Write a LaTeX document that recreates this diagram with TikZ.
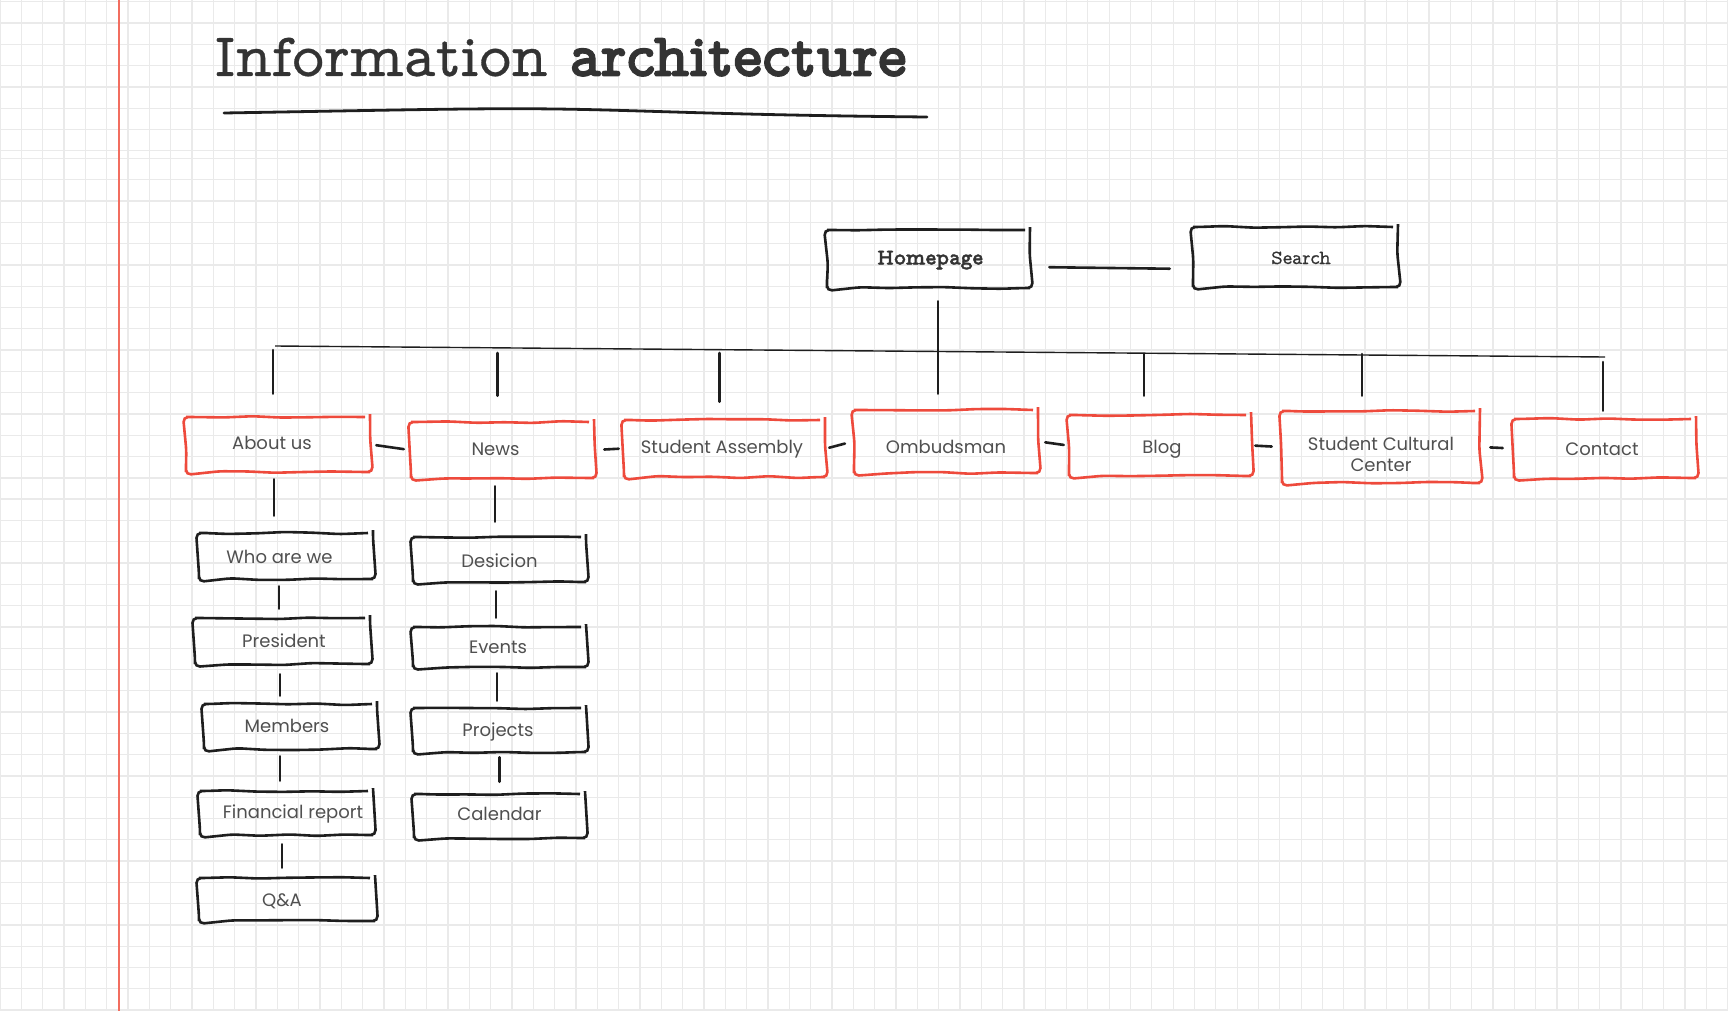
\documentclass[tikz,border=0pt]{standalone}
\usepackage{fontspec}
\usetikzlibrary{decorations.pathmorphing,calc}
\setsansfont{Poppins}
\newfontfamily\tw{lmmonoprop10-regular.otf}[FakeBold=0.5, BoldFont=lmmonoproplt10-bold.otf, BoldFeatures={FakeBold=1.6}]
\definecolor{redbox}{HTML}{EE4A3C}
\definecolor{ink}{HTML}{1E1E1E}
\definecolor{txt}{HTML}{333333}
\definecolor{ltxt}{HTML}{505050}
\definecolor{gridc}{HTML}{EAEAEA}
\definecolor{margin}{HTML}{F26D5F}
\newcommand\tp[3]{\hspace*{#1pt}\raisebox{#2pt}[0pt][0pt]{#3}}
\tikzset{
  sk/.style={draw=ink, line width=2.6pt, decorate,
    decoration={random steps, segment length=28pt, amplitude=1.1pt},
    rounded corners=5pt, inner sep=0pt, text=ltxt,
    font=\sffamily\fontsize{18}{21}\selectfont},
  rbox/.style={sk, draw=redbox},
  kbox/.style={sk},
  conn/.style={draw=ink, line width=2.6pt, line cap=round},
  busline/.style={draw=ink, line width=1.4pt},
}
\begin{document}
\begin{tikzpicture}[x=1pt, y=-1pt]
\pgfmathsetseed{11}
\useasboundingbox (0,0) rectangle (1728,1011);
\fill[white] (0,0) rectangle (1728,1011);
% grid
\foreach \i in {0,...,81} \draw[gridc, line width=1.3pt] (\i*21.33,0) -- (\i*21.33,1011);
\foreach \j in {0,...,7} \draw[gridc, line width=1.3pt] (0,1.7+\j*21.3) -- (1728,1.7+\j*21.3);
\foreach \j in {0,...,40} \draw[gridc, line width=1.3pt] (0,158.5+\j*21.29) -- (1728,158.5+\j*21.29);
\draw[margin, line width=1.5pt] (119,0) -- (119,1011);
% title
\node[anchor=base west, inner sep=0pt, text=txt, font=\tw\fontsize{62}{62}\selectfont] (title) at (214,76) {Information \textbf{architecture}};
\draw[ink, line width=2.8pt, line cap=round] (224,113) .. controls (400,110) and (480,108) .. (555,109) .. controls (640,110) and (720,115) .. (927,117);
% top
\node[kbox, minimum width=203pt, minimum height=58pt, text=txt, font=\tw\bfseries\fontsize{22.5}{24}\selectfont] (home) at (928.5,259) {\tp{3}{-5.5}{Homepage}};
\node[kbox, minimum width=205pt, minimum height=60pt, text=txt, font=\tw\fontsize{20}{22}\selectfont] (search) at (1295.5,257) {\tp{11}{-7}{Search}};
% level 1
\node[rbox, minimum width=184pt, minimum height=55pt] (about) at (278,444.5) {\tp{-12}{-4.5}{About us}};
\node[rbox, minimum width=183pt, minimum height=56pt] (news) at (502.5,450) {\tp{-14}{-5}{News}};
\node[rbox, minimum width=201pt, minimum height=57pt] (sa) at (724.5,448.5) {\tp{-5}{-4.5}{Student Assembly}};
\node[rbox, minimum width=184pt, minimum height=63pt] (omb) at (946,441.5) {\tp{0}{-11.5}{Ombudsman}};
\node[rbox, minimum width=182pt, minimum height=61pt] (blog) at (1160,445.5) {\tp{4}{-7.5}{Blog}};
\node[rbox, minimum width=198pt, minimum height=72pt] (scc) at (1381,447) {\tp{0}{-24}{\begin{tabular}[b]{@{}c@{}}Student Cultural\\Center\end{tabular}}};
\node[rbox, minimum width=182pt, minimum height=59pt] (contact) at (1605,448.5) {\tp{-6}{-6.5}{Contact}};
% level 2
\node[kbox, minimum width=174pt, minimum height=46pt] (who) at (286,556) {\tp{-13}{-7}{Who are we}};
\node[kbox, minimum width=175pt, minimum height=46pt] (pres) at (282.5,641) {\tp{3}{-6}{President}};
\node[kbox, minimum width=173pt, minimum height=45pt] (memb) at (290.5,726.5) {\tp{-7}{-5.5}{Members}};
\node[kbox, minimum width=173pt, minimum height=44pt] (fin) at (286.5,813) {\tp{13}{-5}{Financial report}};
\node[kbox, minimum width=176pt, minimum height=43pt] (qa) at (287,899.5) {\tp{-10}{-6.5}{Q\&A}};
\node[kbox, minimum width=173pt, minimum height=45pt] (dec) at (499.5,559.5) {\tp{0}{-7.5}{Desicion}};
\node[kbox, minimum width=173pt, minimum height=40pt] (ev) at (499.5,647) {\tp{-3}{-6}{Events}};
\node[kbox, minimum width=173pt, minimum height=44pt] (proj) at (499.5,730) {\tp{-3}{-6}{Projects}};
\node[kbox, minimum width=171pt, minimum height=44pt] (cal) at (499.5,816) {\tp{0}{-4}{Calendar}};
% bus
\coordinate (busL) at (275,346);
\coordinate (busR) at (1605,357);
\draw[busline] (busL) -- (busR);
% connectors
\draw[conn, shorten <=18pt, shorten >=22pt] ([yshift=-8pt]home.east) -- ([yshift=-12pt]search.west);
\draw[conn, shorten <=12pt, shorten >=15pt] ([xshift=9.5pt]home.south) -- ([xshift=9.5pt]home.south |- omb.north);
\draw[conn, shorten <=22pt, shorten >=4pt] ([xshift=-5pt]about.north) -- ([xshift=-5pt]about.north |- busL);
\draw[conn, shorten <=25pt, shorten >=7pt] ([xshift=-5pt]news.north) -- ([xshift=-5pt]news.north |- busL);
\draw[conn, shorten <=17pt, shorten >=7pt] ([xshift=-5pt]sa.north) -- ([xshift=-5pt]sa.north |- busL);
\draw[conn, shorten <=18pt, shorten >=8pt] ([xshift=-16pt]blog.north) -- ([xshift=-16pt]blog.north |- busL);
\draw[conn, shorten <=14pt, shorten >=8pt] ([xshift=-19pt]scc.north) -- ([xshift=-19pt]scc.north |- busL);
\draw[conn, shorten <=7pt, shorten >=16pt] ([xshift=-2pt]contact.north) -- ([xshift=-2pt]contact.north |- busL);
\draw[conn, shorten <=5pt, shorten >=6pt] (about.east) -- (news.west);
\draw[conn, shorten <=9pt, shorten >=4pt] (news.east) -- (sa.west);
\draw[conn, shorten <=3pt, shorten >=8pt] (sa.east) -- (omb.west);
\draw[conn, shorten <=6pt, shorten >=4pt] (omb.east) -- (blog.west);
\draw[conn, shorten <=3pt, shorten >=9pt] (blog.east) -- (scc.west);
\draw[conn, shorten <=9pt, shorten >=10pt] (scc.east) -- (contact.west);
\draw[conn, shorten <=6pt, shorten >=16pt] ([xshift=-4pt]about.south) -- ([xshift=-12pt]who.north);
\draw[conn, shorten <=6pt, shorten >=8pt] ([xshift=-7pt]who.south) -- ([xshift=-3.5pt]pres.north);
\draw[conn, shorten <=9pt, shorten >=7pt] ([xshift=-2.5pt]pres.south) -- ([xshift=-10.5pt]memb.north);
\draw[conn, shorten <=6pt, shorten >=9pt] ([xshift=-10.5pt]memb.south) -- ([xshift=-6.5pt]fin.north);
\draw[conn, shorten <=8pt, shorten >=9pt] ([xshift=-4.5pt]fin.south) -- ([xshift=-5pt]qa.north);
\draw[conn, shorten <=7pt, shorten >=14pt] ([xshift=-7.5pt]news.south) -- ([xshift=-4.5pt]dec.north);
\draw[conn, shorten <=8pt, shorten >=8pt] ([xshift=-3.5pt]dec.south) -- ([xshift=-3.5pt]ev.north);
\draw[conn, shorten <=5pt, shorten >=6pt] ([xshift=-2.5pt]ev.south) -- ([xshift=-2.5pt]proj.north);
\draw[conn, shorten <=4pt, shorten >=11pt] (proj.south) -- (cal.north);
\end{tikzpicture}
\end{document}
